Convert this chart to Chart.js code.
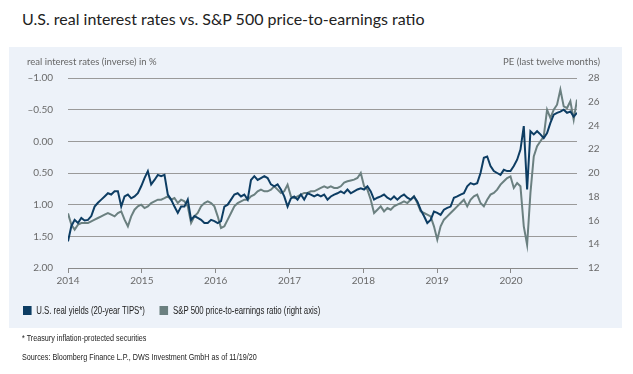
<!DOCTYPE html>
<html><head><meta charset="utf-8">
<script src="https://cdn.jsdelivr.net/npm/chart.js@4/dist/chart.umd.min.js"></script>
<style>
html,body{margin:0;padding:0;background:#fff;width:633px;height:374px;overflow:hidden;font-family:Lato,"Liberation Sans",sans-serif;}
#title{position:absolute;left:22px;top:9px;font-size:16px;color:#222;font-family:Lato,sans-serif;white-space:nowrap;}
#panel{position:absolute;left:9px;top:47px;width:613px;height:281px;background:#edf2f9;}
#c{position:absolute;left:0;top:0;}
.axt{position:absolute;top:9px;font-size:9.5px;color:#666;white-space:nowrap;}
#legend{position:absolute;left:14px;top:258px;font-size:10px;color:#222;font-family:"Liberation Sans",sans-serif;white-space:nowrap;transform:scaleX(0.78);transform-origin:0 0;}
#legend span.b{display:inline-block;width:11px;height:9px;vertical-align:-1px;margin-right:6px;}
.note{position:absolute;left:22px;font-size:9px;color:#222;font-family:"Liberation Sans",sans-serif;white-space:nowrap;transform:scaleX(0.8);transform-origin:0 0;}
</style></head><body>
<div id="title">U.S. real interest rates vs. S&amp;P 500 price-to-earnings ratio</div>
<div id="panel">
<canvas id="c" width="613" height="281"></canvas>
<div class="axt" style="left:18px;">real interest rates (inverse) in %</div>
<div class="axt" style="right:22px;">PE (last twelve months)</div>
<div id="legend"><span class="b" style="background:#0d3d63"></span>U.S. real yields (20-year TIPS*)<span class="b" style="background:#6b8080;margin-left:19px"></span>S&amp;P 500 price-to-earnings ratio (right axis)</div>
</div>
<div class="note" style="top:333px;">* Treasury inflation-protected securities</div>
<div class="note" style="top:352px;">Sources: Bloomberg Finance L.P., DWS Investment GmbH as of 11/19/20</div>
<script>
const seriesNames = ['U.S. real yields (20-year TIPS*)', 'S&P 500 price-to-earnings ratio (right axis)'];
const xTickYears = [2014, 2015, 2016, 2017, 2018, 2019, 2020];
const leftTicks = [-1.0, -0.5, 0.0, 0.5, 1.0, 1.5, 2.0];
const rightTicks = [12, 14, 16, 18, 20, 22, 24, 26, 28];
const startYear = 2014.0;
const stepYears = 0.04506; // roughly two-week sampling
const endYear = 2020.894;  // 11/19/2020

const realYield = [1.58,1.34,1.24,1.29,1.21,1.25,1.24,1.18,1.03,0.97,
0.92,0.87,0.82,0.84,0.79,0.79,1.03,0.87,0.84,0.90,
0.87,0.82,0.71,0.58,0.47,0.68,0.61,0.53,0.55,0.53,
0.84,0.92,1.03,1.13,1.03,1.03,0.92,1.24,1.18,1.21,
1.24,1.29,1.29,1.24,1.26,1.29,1.26,1.03,1.00,0.92,
0.84,0.82,0.87,0.84,0.92,0.61,0.55,0.61,0.58,0.55,
0.58,0.68,0.71,0.68,0.76,0.87,1.03,0.90,0.87,0.92,
0.84,0.92,0.82,0.84,0.87,0.84,0.87,0.84,0.92,0.87,
0.84,0.82,0.79,0.82,0.76,0.82,0.79,0.76,0.74,0.76,
0.71,0.79,0.92,0.89,0.87,0.84,0.89,0.92,0.87,0.92,
0.87,0.84,0.89,0.92,0.87,0.95,1.08,1.18,1.29,1.24,
1.11,1.13,1.16,1.08,1.05,1.03,0.89,0.87,0.84,0.82,
0.71,0.66,0.68,0.66,0.50,0.26,0.24,0.39,0.47,0.50,
0.53,0.45,0.47,0.47,0.39,0.29,0.13,-0.24,0.76,-0.16,
-0.11,-0.16,-0.11,-0.05,-0.13,-0.29,-0.42,-0.45,-0.47,-0.50,
-0.45,-0.47,-0.39,-0.45];

const peRatio = [16.6,15.65,15.23,15.65,15.79,15.79,15.79,15.93,16.07,16.21,
16.35,16.49,16.63,16.49,16.35,16.63,16.77,16.07,15.51,16.35,
16.91,17.19,17.33,17.05,17.19,17.47,17.61,17.75,17.75,17.89,
18.04,17.75,17.89,17.47,17.75,17.61,17.19,15.79,16.35,16.63,
17.19,17.47,17.61,17.47,17.19,16.35,15.37,15.51,16.07,16.63,
17.19,17.47,17.61,17.75,17.75,18.04,18.18,18.46,18.60,18.46,
18.46,18.60,18.88,18.60,18.32,18.46,19.02,18.04,17.89,18.04,
18.18,18.32,18.32,18.46,18.46,18.60,18.74,18.88,18.74,18.88,
18.74,18.74,18.88,19.2,19.30,19.37,19.44,19.58,20.0,18.88,
18.60,17.75,16.63,16.91,17.19,16.77,17.05,16.91,17.19,17.33,
17.47,17.61,17.47,17.75,18.04,17.47,16.77,16.63,16.49,16.35,
15.51,14.39,15.51,16.07,16.35,16.63,16.91,17.19,17.47,17.75,
17.19,17.75,18.04,18.18,17.47,17.19,17.75,18.18,18.32,18.60,
19.02,19.30,19.58,19.72,18.74,19.16,18.88,15.51,13.96,18.32,
21.40,22.25,22.67,23.09,25.33,24.63,25.33,25.75,27.02,25.61,
25.47,26.04,24.49,26.18];

const dates = realYield.map((_, i) => startYear + i * stepYears);
const toPts = arr => arr.map((v, i) => ({x: dates[i], y: v}));

const tickFont = {family: 'Lato, "Liberation Sans", sans-serif', size: 10};
const tickColor = '#6a6a6a';

new Chart(document.getElementById('c'), {
  type: 'line',
  data: {
    datasets: [
      {label: seriesNames[0], data: toPts(realYield), yAxisID: 'y', borderColor: '#0d3d63', borderWidth: 2, pointRadius: 0, tension: 0, order: 1},
      {label: seriesNames[1], data: toPts(peRatio), yAxisID: 'y1', borderColor: '#6b8080', borderWidth: 2, pointRadius: 0, tension: 0, order: 2}
    ]
  },
  options: {
    responsive: false,
    animation: false,
    devicePixelRatio: 1,
    layout: {padding: {top: 31, left: 0, right: 0, bottom: 0}},
    plugins: {legend: {display: false}, tooltip: {enabled: false}},
    scales: {
      x: {
        type: 'linear', min: startYear, max: endYear,
        afterBuildTicks: s => { s.ticks = xTickYears.map(v => ({value: v})); },
        afterFit: s => { s.height = 60; },
        ticks: {callback: v => String(v), font: tickFont, color: tickColor, padding: 2, maxRotation: 0, autoSkip: false},
        grid: {display: true, drawOnChartArea: false, drawTicks: true, tickLength: 5, color: '#8a8a8a'},
        border: {display: true, color: '#8a8a8a', width: 1}
      },
      y: {
        position: 'left', reverse: true, min: -1, max: 2,
        afterBuildTicks: s => { s.ticks = leftTicks.map(v => ({value: v})); },
        afterFit: s => { s.width = 59; },
        ticks: {callback: v => (v < 0 ? '\u2013' + Math.abs(v).toFixed(2) : v.toFixed(2)), font: tickFont, color: tickColor, padding: 15},
        grid: {color: '#9a9a9a', lineWidth: 1, drawTicks: false},
        border: {display: false}
      },
      y1: {
        position: 'right', min: 12, max: 28,
        afterBuildTicks: s => { s.ticks = rightTicks.map(v => ({value: v})); },
        afterFit: s => { s.width = 45; },
        ticks: {callback: v => String(v), font: tickFont, color: tickColor, padding: 11},
        grid: {display: false, drawTicks: false},
        border: {display: false}
      }
    }
  }
});
</script>
</body></html>
